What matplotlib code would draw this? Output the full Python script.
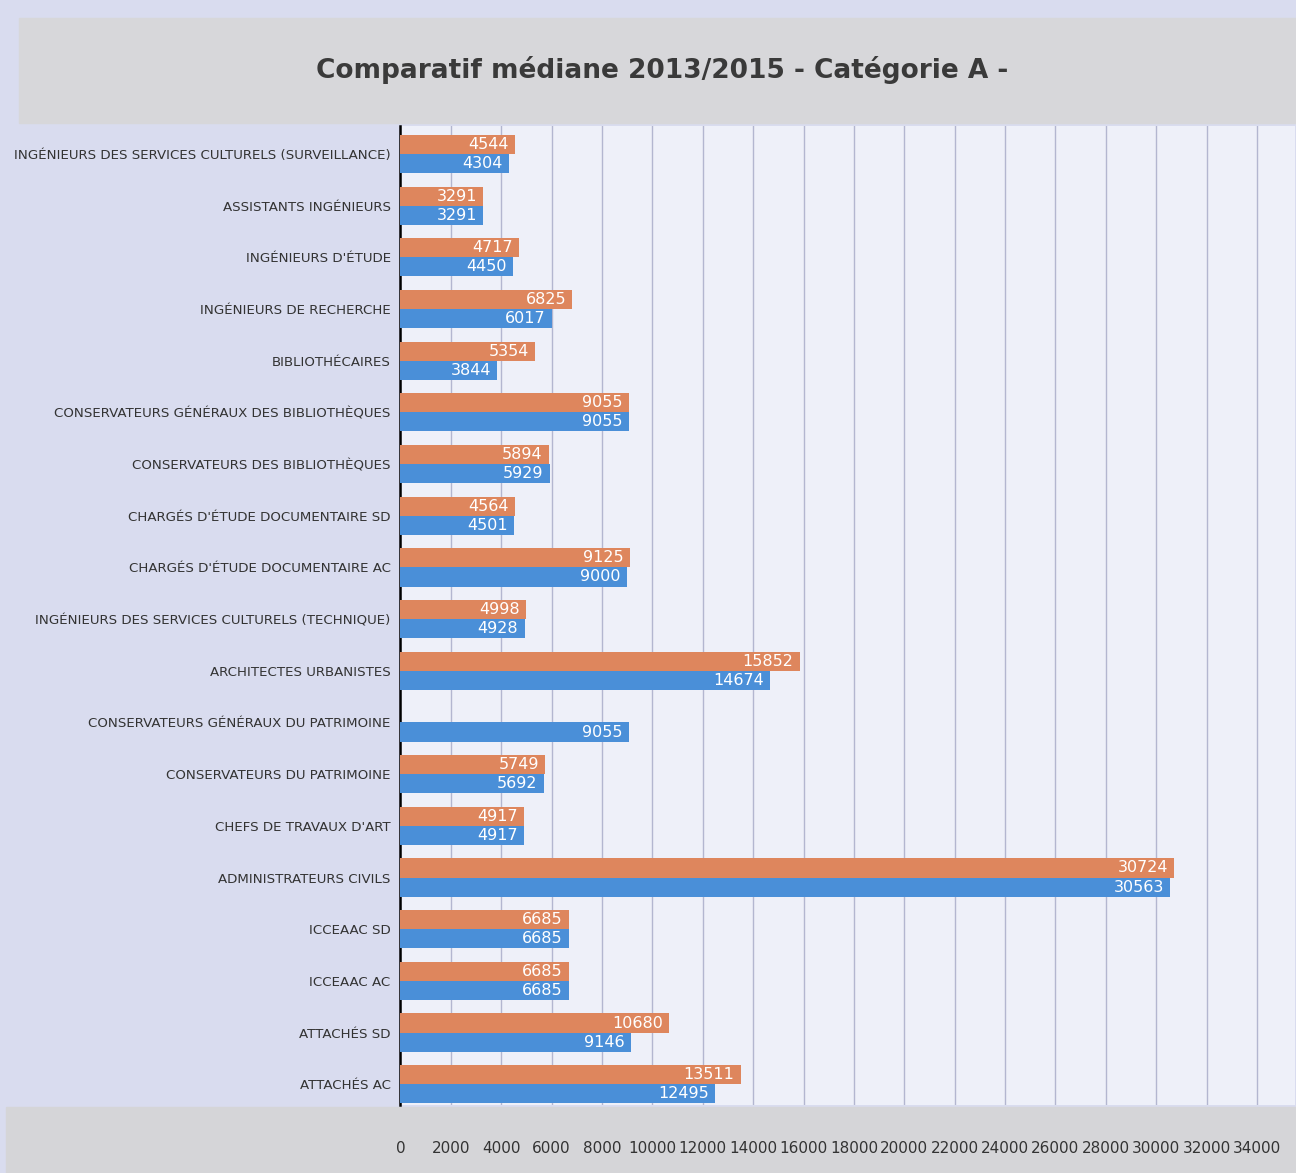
import numpy as np
import matplotlib.pyplot as plt

plt.rcParams['font.family'] = ['Liberation Sans Narrow', 'DejaVu Sans Condensed', 'DejaVu Sans']

categories = [
	"INGÉNIEURS DES SERVICES CULTURELS (SURVEILLANCE)",
	"ASSISTANTS INGÉNIEURS",
	"INGÉNIEURS D'ÉTUDE",
	"INGÉNIEURS DE RECHERCHE",
	"BIBLIOTHÉCAIRES",
	"CONSERVATEURS GÉNÉRAUX DES BIBLIOTHÈQUES",
	"CONSERVATEURS DES BIBLIOTHÈQUES",
	"CHARGÉS D'ÉTUDE DOCUMENTAIRE SD",
	"CHARGÉS D'ÉTUDE DOCUMENTAIRE AC",
	"INGÉNIEURS DES SERVICES CULTURELS (TECHNIQUE)",
	"ARCHITECTES URBANISTES",
	"CONSERVATEURS GÉNÉRAUX DU PATRIMOINE",
	"CONSERVATEURS DU PATRIMOINE",
	"CHEFS DE TRAVAUX D'ART",
	"ADMINISTRATEURS CIVILS",
	"ICCEAAC SD",
	"ICCEAAC AC",
	"ATTACHÉS SD",
	"ATTACHÉS AC",
]

# orange series (top bar of each pair), blue series (bottom bar)
orange_vals = [4544, 3291, 4717, 6825, 5354, 9055, 5894, 4564, 9125, 4998,
			   15852, np.nan, 5749, 4917, 30724, 6685, 6685, 10680, 13511]
blue_vals   = [4304, 3291, 4450, 6017, 3844, 9055, 5929, 4501, 9000, 4928,
			   14674, 9055, 5692, 4917, 30563, 6685, 6685, 9146, 12495]

x_ticks = list(range(0, 34001, 2000))

ORANGE = '#de865d'
BLUE   = '#4a8fd8'

fig = plt.figure(figsize=(12.96, 11.73), dpi=100, facecolor='#d9dcef')
# gray bands at top and bottom, like the scanned original
fig.patches.append(plt.Rectangle((0.015, 0.895), 0.985, 0.09, transform=fig.transFigure,
								 color='#d7d7da', zorder=-1))
fig.patches.append(plt.Rectangle((0.005, 0.0), 0.995, 0.056, transform=fig.transFigure,
								 color='#d5d5d8', zorder=-1))
fig.text(0.511, 0.94, 'Comparatif médiane 2013/2015 - Catégorie A -',
		 ha='center', va='center', fontsize=19, fontweight='bold', color='#3a3a3a')

ax = fig.add_axes([0.309, 0.058, 0.69, 0.835])
ax.set_facecolor('#eef0f9')

y = np.arange(len(categories))
h = 0.37
ob = ax.barh(y - h / 2, orange_vals, height=h, color=ORANGE, zorder=3)
bb = ax.barh(y + h / 2, blue_vals, height=h, color=BLUE, zorder=3)

for bars, vals in ((ob, orange_vals), (bb, blue_vals)):
	for bar, v in zip(bars, vals):
		if np.isnan(v):
			continue
		ax.text(v - 250, bar.get_y() + bar.get_height() / 2, f'{int(v)}',
				ha='right', va='center', color='white', fontsize=11.5,
				zorder=4)

ax.set_yticks(y)
ax.set_yticklabels(categories, fontsize=9.6, color='#333333')
ax.set_ylim(len(categories) - 0.6, -0.55)
ax.set_xlim(0, 35500)
ax.set_xticks(x_ticks)
ax.set_xticklabels([str(t) for t in x_ticks], fontsize=11, color='#333333')
ax.tick_params(axis='y', length=0, pad=7)
ax.tick_params(axis='x', length=0, pad=26)
ax.grid(axis='x', color='#b3b6d0', linewidth=1.0, zorder=0)
for s in ['top', 'right', 'bottom']:
	ax.spines[s].set_visible(False)
ax.spines['left'].set_color('black')
ax.spines['left'].set_linewidth(1.8)

fig.savefig('out.png', dpi=100, facecolor=fig.get_facecolor())
